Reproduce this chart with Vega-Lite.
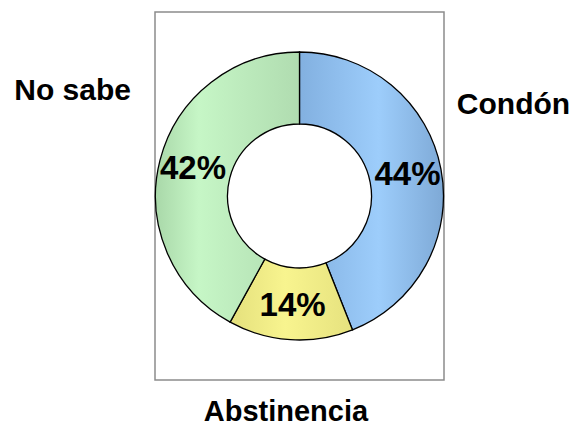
{
  "$schema": "https://vega.github.io/schema/vega-lite/v6.json",
  "width": 289,
  "height": 368,
  "autosize": {"type": "none"},
  "padding": {"left": 155, "top": 12, "right": 130, "bottom": 50},
  "background": "white",
  "config": {"view": {"stroke": null}},
  "data": {
    "values": [
      {"cat": "Condón", "value": 0.44, "orden": 1},
      {"cat": "Abstinencia", "value": 0.14, "orden": 2},
      {"cat": "No sabe", "value": 0.42, "orden": 3}
    ]
  },
  "layer": [
    {
      "data": {"values": [{"frame": 1}]},
      "mark": {"type": "rect", "fill": null, "stroke": "#8c8c8c", "strokeWidth": 1.5},
      "encoding": {}
    },
    {
      "mark": {"type": "arc", "innerRadius": 72, "outerRadius": 144, "stroke": "black", "strokeWidth": 1.3},
      "encoding": {
        "theta": {"field": "value", "type": "quantitative", "stack": true},
        "order": {"field": "orden", "type": "quantitative"},
        "fill": {
          "condition": [
            {"test": "datum.cat === 'Condón'", "value": {"gradient": "linear", "x1": 0, "y1": 0, "x2": 1, "y2": 0, "stops": [{"offset": 0, "color": "#82b0e0"}, {"offset": 0.55, "color": "#9dcdfb"}, {"offset": 1, "color": "#7ea9d6"}]}},
            {"test": "datum.cat === 'Abstinencia'", "value": {"gradient": "linear", "x1": 0, "y1": 0, "x2": 1, "y2": 0, "stops": [{"offset": 0, "color": "#e4e07c"}, {"offset": 0.45, "color": "#f8f48f"}, {"offset": 1, "color": "#e6e27e"}]}}
          ],
          "value": {"gradient": "linear", "x1": 0, "y1": 0, "x2": 1, "y2": 0, "stops": [{"offset": 0, "color": "#a9d8a9"}, {"offset": 0.3, "color": "#c6f6c6"}, {"offset": 1, "color": "#b0dcb0"}]}
        }
      }
    },
    {
      "mark": {"type": "text", "radius": 110, "font": "Liberation Sans", "fontWeight": "bold", "fontSize": 33, "baseline": "middle", "align": "center", "color": "black"},
      "encoding": {
        "theta": {"field": "value", "type": "quantitative", "stack": true},
        "order": {"field": "orden", "type": "quantitative"},
        "text": {"field": "value", "type": "quantitative", "format": ".0%"}
      }
    },
    {
      "mark": {"type": "text", "radius": 226, "dy": -49, "dx": -8, "font": "Liberation Sans", "fontWeight": "bold", "fontSize": 30, "baseline": "middle", "align": "center", "color": "black"},
      "encoding": {
        "theta": {"field": "value", "type": "quantitative", "stack": true},
        "order": {"field": "orden", "type": "quantitative"},
        "text": {"field": "cat", "type": "nominal", "condition": {"test": "datum.cat === 'Abstinencia'", "value": ""}}
      }
    },
    {
      "mark": {"type": "text", "radius": 216, "font": "Liberation Sans", "fontWeight": "bold", "fontSize": 29, "baseline": "middle", "align": "center", "color": "black"},
      "encoding": {
        "theta": {"field": "value", "type": "quantitative", "stack": true},
        "order": {"field": "orden", "type": "quantitative"},
        "text": {"field": "cat", "type": "nominal", "condition": {"test": "datum.cat !== 'Abstinencia'", "value": ""}}
      }
    }
  ]
}
